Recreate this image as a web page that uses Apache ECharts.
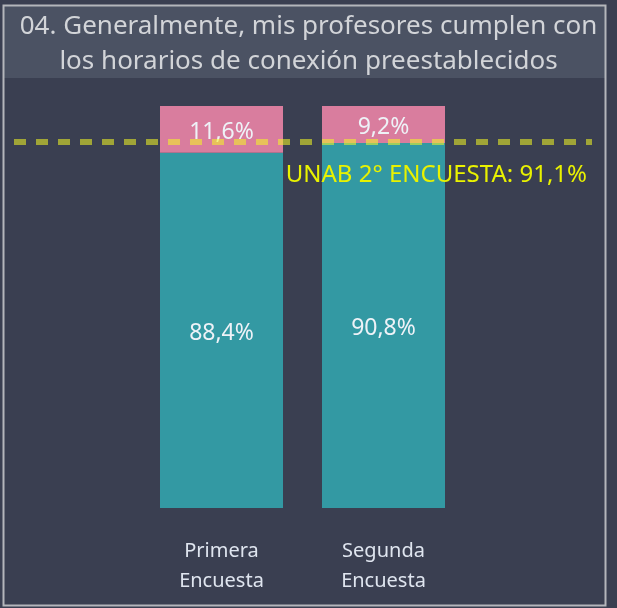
<!DOCTYPE html>
<html>
<head>
<meta charset="utf-8">
<script src="https://cdn.jsdelivr.net/npm/echarts@6/dist/echarts.min.js"></script>
<style>
  html, body { margin: 0; padding: 0; background: #3a3f51; }
  #chart { width: 617px; height: 608px; }
</style>
</head>
<body>
<div id="chart"></div>
<script>
    // datos
    var categorias = ['Primera\nEncuesta', 'Segunda\nEncuesta'];
    var cumplen = [88.4, 90.8];
    var noCumplen = [11.6, 9.2];
    var referencia = 91.1;
    var refTexto = 'UNAB 2° ENCUESTA: ';
    var titulo = '04. Generalmente, mis profesores cumplen con\nlos horarios de conexión preestablecidos';

    var chart = echarts.init(document.getElementById('chart'));

    function pct(v) {
        return v.toFixed(1).replace('.', ',') + '%';
    }

    var fuente = 'Noto Sans';

    var etiquetaBarra = {
        show: true,
        position: 'inside',
        offset: [0, 3],
        color: '#eef2f7',
        fontSize: 23,
        formatter: function (p) { return pct(p.value); }
    };

    var option = {
        backgroundColor: '#3a3f51',
        animation: false,
        textStyle: { fontFamily: fuente },
        title: {
            text: titulo,
            left: 'center',
            top: 4,
            textStyle: {
                color: '#d2d4d8',
                fontSize: 26,
                fontWeight: 'normal',
                lineHeight: 35,
                fontFamily: fuente
            }
        },
        graphic: [{
            type: 'rect',
            z: -1,
            shape: { x: 4, y: 5, width: 602, height: 73 },
            style: { fill: '#4b5263' }
        }, {
            type: 'rect',
            z: 100,
            shape: { x: 3.5, y: 5.5, width: 602, height: 600 },
            style: { fill: null, stroke: '#b4b6bb', lineWidth: 2 }
        }],
        grid: [{
            // linea de referencia, ancho completo
            left: 14, width: 578, top: 106, bottom: 100
        }, {
            // barras
            left: 140.5, width: 324, top: 106, bottom: 100
        }],
        xAxis: [{
            gridIndex: 0,
            type: 'value',
            min: 0, max: 1,
            show: false
        }, {
            gridIndex: 1,
            type: 'category',
            data: categorias,
            axisLine: { show: false },
            axisTick: { show: false },
            axisLabel: {
                color: '#dfe5ef',
                fontSize: 20,
                lineHeight: 30,
                margin: 28
            }
        }],
        yAxis: [{
            gridIndex: 0,
            type: 'value',
            min: 0, max: 100,
            show: false
        }, {
            gridIndex: 1,
            type: 'value',
            min: 0, max: 100,
            show: false
        }],
        series: [{
            name: 'Cumplen',
            type: 'bar',
            xAxisIndex: 1,
            yAxisIndex: 1,
            stack: 'total',
            barWidth: 123,
            data: cumplen,
            itemStyle: { color: '#3399a3' },
            label: etiquetaBarra
        }, {
            name: 'No cumplen',
            type: 'bar',
            xAxisIndex: 1,
            yAxisIndex: 1,
            stack: 'total',
            barWidth: 123,
            data: noCumplen,
            itemStyle: { color: '#d97d9e' },
            label: etiquetaBarra
        }, {
            name: 'Referencia',
            type: 'line',
            xAxisIndex: 0,
            yAxisIndex: 0,
            data: [],
            z: 10,
            markLine: {
                silent: true,
                symbol: 'none',
                lineStyle: {
                    color: 'rgba(244,250,35,0.55)',
                    width: 6,
                    type: [12, 10]
                },
                label: {
                    position: 'insideEndBottom',
                    distance: [5, 21],
                    color: '#e9f200',
                    fontSize: 24,
                    formatter: function () { return refTexto + pct(referencia); }
                },
                data: [{ yAxis: referencia }]
            }
        }]
    };

    chart.setOption(option);
</script>
</body>
</html>
